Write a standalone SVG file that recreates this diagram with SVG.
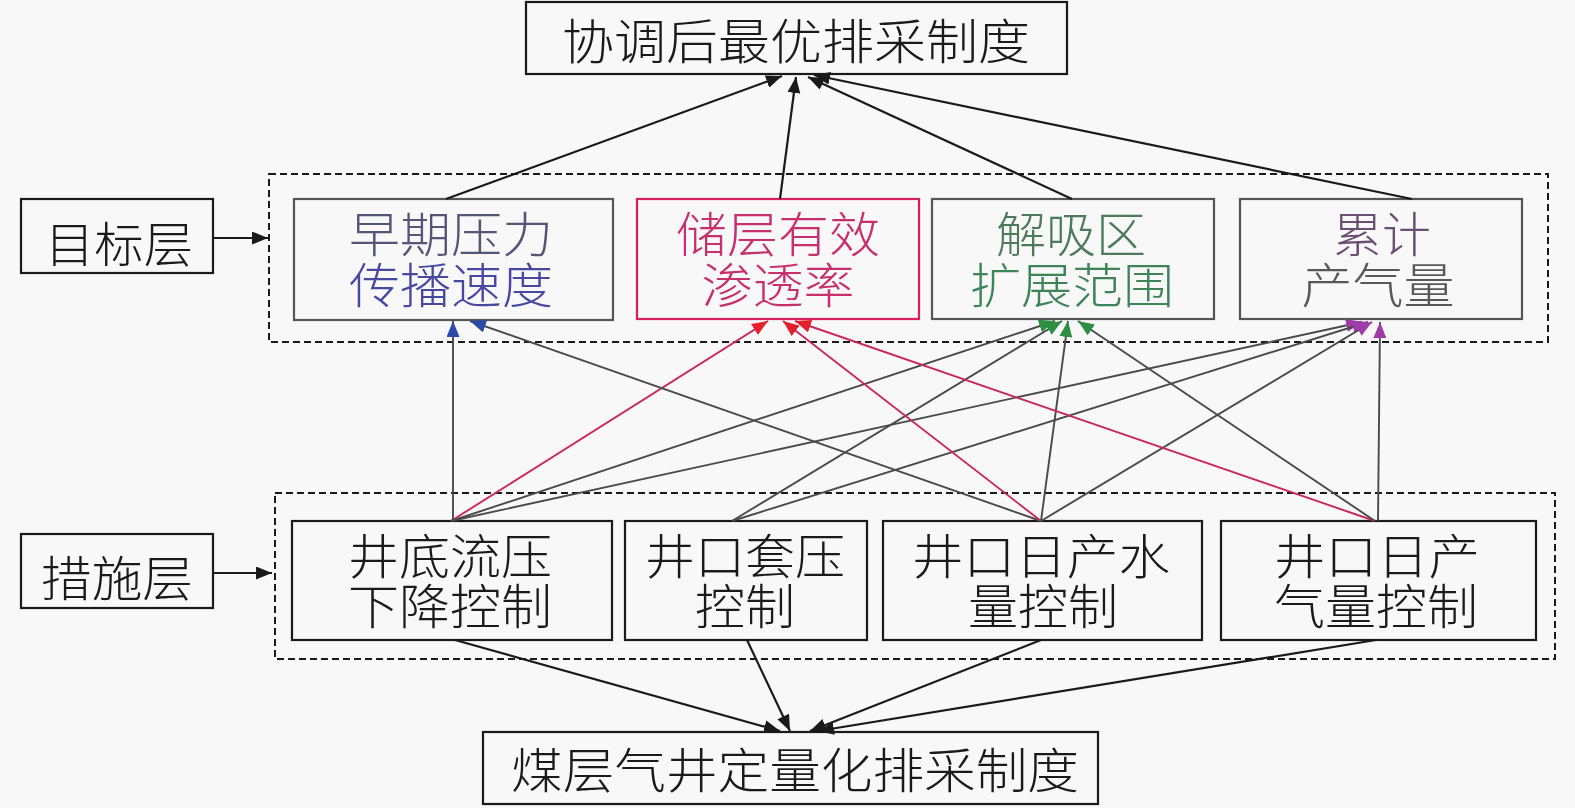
<svg xmlns="http://www.w3.org/2000/svg" width="1575" height="808" viewBox="0 0 1575 808">
<defs>
<style>
.box{fill:none;stroke:#1a1a1a;stroke-width:2.2}
.gbox{fill:none;stroke:#555;stroke-width:2.2}
.rbox{fill:none;stroke:#d81e5b;stroke-width:2.2}
.dash{fill:none;stroke:#1a1a1a;stroke-width:2;stroke-dasharray:7 4}
.t{font-family:"Noto Sans CJK SC","Noto Sans CJK JP",sans-serif;font-weight:300;font-size:48px;text-anchor:middle;fill:#1a1a1a}
.k{stroke:#1a1a1a;stroke-width:2.2;fill:none}
.g{stroke:#4a4a4a;stroke-width:1.9;fill:none}
.c{stroke:#c8285a;stroke-width:1.9;fill:none}
</style>
<marker id="mk" markerUnits="userSpaceOnUse" markerWidth="17" markerHeight="13" refX="16" refY="6.5" orient="auto"><path d="M0,0 L16,6.5 L0,13 z" fill="#1a1a1a"/></marker>
<marker id="mb" markerUnits="userSpaceOnUse" markerWidth="17" markerHeight="13" refX="16" refY="6.5" orient="auto"><path d="M0,0 L16,6.5 L0,13 z" fill="#2a4aa8"/></marker>
<marker id="mr" markerUnits="userSpaceOnUse" markerWidth="17" markerHeight="13" refX="16" refY="6.5" orient="auto"><path d="M0,0 L16,6.5 L0,13 z" fill="#e5202e"/></marker>
<marker id="mg" markerUnits="userSpaceOnUse" markerWidth="17" markerHeight="13" refX="16" refY="6.5" orient="auto"><path d="M0,0 L16,6.5 L0,13 z" fill="#2e8f42"/></marker>
<marker id="mp" markerUnits="userSpaceOnUse" markerWidth="17" markerHeight="13" refX="16" refY="6.5" orient="auto"><path d="M0,0 L16,6.5 L0,13 z" fill="#a03ca8"/></marker>
</defs>
<rect width="1575" height="808" fill="#f8f8f8"/>

<g id="layer-target">
<rect class="dash" x="269" y="174" width="1279" height="168"/>
</g>
<g id="layer-measure">
<rect class="dash" x="275" y="493" width="1280" height="166"/>
</g>

<g id="top">
<rect class="box" x="526" y="2" width="541" height="72"/>
<text class="t" x="796" y="59" font-size="54" textLength="468" lengthAdjust="spacingAndGlyphs">协调后最优排采制度</text>
</g>

<g id="label-target">
<rect class="box" x="21" y="199" width="192" height="74"/>
<text class="t" x="119" y="262" font-size="56" textLength="148" lengthAdjust="spacingAndGlyphs">目标层</text>
</g>
<g id="label-measure">
<rect class="box" x="21" y="534" width="192" height="74"/>
<text class="t" x="117" y="596" font-size="56" textLength="152" lengthAdjust="spacingAndGlyphs">措施层</text>
</g>

<g id="t1">
<rect class="gbox" x="294" y="199" width="319" height="121"/>
<text class="t"><tspan x="451" y="252" textLength="204" lengthAdjust="spacingAndGlyphs" fill="#555577">早期压力</tspan><tspan x="451" y="303" textLength="204" lengthAdjust="spacingAndGlyphs" fill="#4848a0">传播速度</tspan></text>
</g>
<g id="t2">
<rect class="rbox" x="637" y="199" width="282" height="120"/>
<text class="t"><tspan x="778" y="252" textLength="204" lengthAdjust="spacingAndGlyphs" fill="#c8306a">储层有效</tspan><tspan x="778" y="303" textLength="153" lengthAdjust="spacingAndGlyphs" fill="#c8306a">渗透率</tspan></text>
</g>
<g id="t3">
<rect class="gbox" x="932" y="199" width="282" height="120"/>
<text class="t"><tspan x="1071" y="252" textLength="150" lengthAdjust="spacingAndGlyphs" fill="#4d7a5a">解吸区</tspan><tspan x="1072" y="303" textLength="204" lengthAdjust="spacingAndGlyphs" fill="#3f8458">扩展范围</tspan></text>
</g>
<g id="t4">
<rect class="gbox" x="1240" y="199" width="282" height="120"/>
<text class="t"><tspan x="1382" y="252" textLength="98" lengthAdjust="spacingAndGlyphs" fill="#6b4f73">累计</tspan><tspan x="1378" y="303" textLength="153" lengthAdjust="spacingAndGlyphs" fill="#585858">产气量</tspan></text>
</g>

<g id="m1">
<rect class="box" x="292" y="521" width="320" height="119"/>
<text class="t"><tspan x="450" y="574" textLength="204" lengthAdjust="spacingAndGlyphs">井底流压</tspan><tspan x="450" y="624" textLength="204" lengthAdjust="spacingAndGlyphs">下降控制</tspan></text>
</g>
<g id="m2">
<rect class="box" x="625" y="521" width="242" height="119"/>
<text class="t"><tspan x="745" y="574" textLength="200" lengthAdjust="spacingAndGlyphs">井口套压</tspan><tspan x="745" y="624" textLength="100" lengthAdjust="spacingAndGlyphs">控制</tspan></text>
</g>
<g id="m3">
<rect class="box" x="883" y="521" width="319" height="119"/>
<text class="t"><tspan x="1041" y="574" textLength="258" lengthAdjust="spacingAndGlyphs">井口日产水</tspan><tspan x="1043" y="624" textLength="150" lengthAdjust="spacingAndGlyphs">量控制</tspan></text>
</g>
<g id="m4">
<rect class="box" x="1221" y="521" width="315" height="119"/>
<text class="t"><tspan x="1377" y="574" textLength="206" lengthAdjust="spacingAndGlyphs">井口日产</tspan><tspan x="1376" y="624" textLength="204" lengthAdjust="spacingAndGlyphs">气量控制</tspan></text>
</g>

<g id="bottom">
<rect class="box" x="483" y="732" width="615" height="72"/>
<text class="t" x="795" y="788" font-size="54" textLength="568" lengthAdjust="spacingAndGlyphs">煤层气井定量化排采制度</text>
</g>

<g id="connectors">
<line class="k" x1="213" y1="238" x2="268" y2="238" marker-end="url(#mk)"/>
<line class="k" x1="213" y1="573" x2="272" y2="573" marker-end="url(#mk)"/>

<line class="k" x1="446" y1="199" x2="782" y2="76" marker-end="url(#mk)"/>
<line class="k" x1="780" y1="199" x2="796" y2="77" marker-end="url(#mk)"/>
<line class="k" x1="1072" y1="199" x2="808" y2="77" marker-end="url(#mk)"/>
<line class="k" x1="1412" y1="199" x2="814" y2="75" marker-end="url(#mk)"/>

<line class="g" x1="453" y1="521" x2="453" y2="321" marker-end="url(#mb)"/>
<line class="c" x1="451" y1="521" x2="768" y2="321" marker-end="url(#mr)"/>
<line class="g" x1="451" y1="521" x2="1055" y2="321" marker-end="url(#mg)"/>
<line class="g" x1="451" y1="521" x2="1362" y2="322" marker-end="url(#mp)"/>
<line class="g" x1="732" y1="521" x2="1062" y2="321" marker-end="url(#mg)"/>
<line class="g" x1="732" y1="521" x2="1368" y2="322" marker-end="url(#mp)"/>
<line class="g" x1="1041" y1="521" x2="470" y2="321" marker-end="url(#mb)"/>
<line class="c" x1="1041" y1="521" x2="783" y2="321" marker-end="url(#mr)"/>
<line class="g" x1="1041" y1="521" x2="1068" y2="321" marker-end="url(#mg)"/>
<line class="g" x1="1041" y1="521" x2="1372" y2="322" marker-end="url(#mp)"/>
<line class="c" x1="1375" y1="521" x2="795" y2="321" marker-end="url(#mr)"/>
<line class="g" x1="1375" y1="521" x2="1078" y2="321" marker-end="url(#mg)"/>
<line class="g" x1="1378" y1="521" x2="1380" y2="322" marker-end="url(#mp)"/>

<line class="k" x1="455" y1="640" x2="780" y2="731" marker-end="url(#mk)"/>
<line class="k" x1="747" y1="640" x2="790" y2="731" marker-end="url(#mk)"/>
<line class="k" x1="1041" y1="640" x2="810" y2="731" marker-end="url(#mk)"/>
<line class="k" x1="1376" y1="640" x2="818" y2="731" marker-end="url(#mk)"/>
</g>
</svg>
